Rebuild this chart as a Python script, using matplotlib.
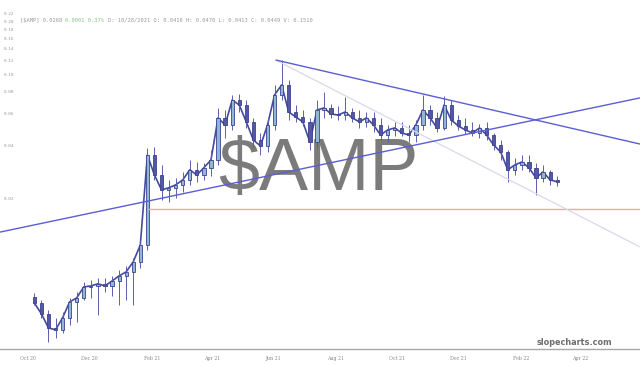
import numpy as np
import pandas as pd
import matplotlib
matplotlib.use("Agg")
import matplotlib.pyplot as plt
import matplotlib.dates as mdates
import matplotlib.transforms as mtransforms

# weekly OHLC (week starting Mondays from 2020-10-05)
week_start = pd.date_range("2020-10-05", periods=75, freq="7D")
opens = [0.00560, 0.00518, 0.00450, 0.00375, 0.00365, 0.00427, 0.00525, 0.00553, 0.00638, 0.00646,
         0.00664, 0.00646, 0.00689, 0.00736, 0.00776, 0.00884, 0.0110, 0.0354, 0.0273, 0.0225,
         0.0231, 0.0240, 0.0256, 0.0292, 0.0273, 0.0300, 0.0332, 0.0573, 0.0523, 0.0723,
         0.0678, 0.0544, 0.0430, 0.0398, 0.0523, 0.0772, 0.0879, 0.0619, 0.0580, 0.0544,
         0.0419, 0.0635, 0.0652, 0.0603, 0.0595, 0.0619, 0.0573, 0.0544, 0.0573, 0.0523,
         0.0459, 0.0490, 0.0503, 0.0471, 0.0459, 0.0523, 0.0635, 0.0573, 0.0503, 0.0678,
         0.0558, 0.0516, 0.0490, 0.0471, 0.0503, 0.0459, 0.0403, 0.0368, 0.0292, 0.0311,
         0.0323, 0.0300, 0.0263, 0.0284, 0.0256]
highs = [0.00590, 0.00539, 0.00473, 0.00427, 0.00461, 0.00553, 0.00597, 0.00680, 0.00698, 0.00717,
         0.00717, 0.00736, 0.00796, 0.00838, 0.00930, 0.0117, 0.0388, 0.0393, 0.0311, 0.0256,
         0.0263, 0.0284, 0.0332, 0.0323, 0.0319, 0.0378, 0.0652, 0.0635, 0.0772, 0.0782,
         0.0723, 0.0573, 0.0471, 0.0573, 0.0879, 0.1216, 0.0938, 0.0678, 0.0635, 0.0573,
         0.0723, 0.0803, 0.0687, 0.0669, 0.0752, 0.0652, 0.0635, 0.0619, 0.0619, 0.0573,
         0.0523, 0.0544, 0.0544, 0.0523, 0.0558, 0.0772, 0.0678, 0.0619, 0.0762, 0.0723,
         0.0595, 0.0573, 0.0544, 0.0530, 0.0544, 0.0471, 0.0430, 0.0378, 0.0341, 0.0354,
         0.0354, 0.0319, 0.0311, 0.0292, 0.0270]
lows = [0.00505, 0.00427, 0.00312, 0.00328, 0.00351, 0.00390, 0.00405, 0.00539, 0.00553, 0.00444,
        0.00597, 0.00567, 0.00505, 0.00539, 0.00505, 0.00817, 0.0103, 0.0256, 0.0197, 0.0192,
        0.0203, 0.0219, 0.0240, 0.0250, 0.0256, 0.0270, 0.0311, 0.0441, 0.0490, 0.0619,
        0.0503, 0.0388, 0.0354, 0.0368, 0.0490, 0.0723, 0.0558, 0.0544, 0.0516, 0.0378,
        0.0388, 0.0573, 0.0573, 0.0558, 0.0558, 0.0544, 0.0503, 0.0510, 0.0477, 0.0430,
        0.0419, 0.0453, 0.0453, 0.0419, 0.0419, 0.0490, 0.0523, 0.0477, 0.0490, 0.0523,
        0.0490, 0.0465, 0.0453, 0.0441, 0.0430, 0.0378, 0.0332, 0.0250, 0.0273, 0.0292,
        0.0284, 0.0211, 0.0250, 0.0240, 0.0237]
closes = [0.00518, 0.00450, 0.00375, 0.00365, 0.00427, 0.00525, 0.00553, 0.00638, 0.00646, 0.00664,
          0.00646, 0.00689, 0.00736, 0.00776, 0.00884, 0.0110, 0.0354, 0.0273, 0.0225, 0.0231,
          0.0240, 0.0256, 0.0292, 0.0273, 0.0300, 0.0332, 0.0573, 0.0523, 0.0723, 0.0678,
          0.0544, 0.0430, 0.0398, 0.0523, 0.0772, 0.0879, 0.0619, 0.0580, 0.0544, 0.0419,
          0.0635, 0.0652, 0.0603, 0.0595, 0.0619, 0.0573, 0.0544, 0.0573, 0.0523, 0.0459,
          0.0490, 0.0503, 0.0471, 0.0459, 0.0523, 0.0635, 0.0573, 0.0503, 0.0678, 0.0558,
          0.0516, 0.0490, 0.0471, 0.0503, 0.0459, 0.0403, 0.0368, 0.0292, 0.0311, 0.0323,
          0.0300, 0.0263, 0.0284, 0.0256, 0.0250]

# drawn trend lines (start date, start price, end date, end price)
rising_line = ("2020-09-03", 0.0130, "2022-05-30", 0.0743)
falling_line = ("2021-06-03", 0.1216, "2022-05-30", 0.0408)
faint_line = ("2021-06-03", 0.1216, "2022-05-30", 0.01072)
support_line = ("2021-01-28", 0.01756, "2022-05-30", 0.01756)

ytick_vals = [0.02, 0.04, 0.06, 0.08, 0.10, 0.12, 0.14, 0.16, 0.18, 0.20, 0.22]
xtick_dates = ["2020-10-01", "2020-12-01", "2021-02-01", "2021-04-01", "2021-06-01",
               "2021-08-01", "2021-10-01", "2021-12-01", "2022-02-01", "2022-04-01"]
xtick_labels = ["Oct 20", "Dec 20", "Feb 21", "Apr 21", "Jun 21",
                "Aug 21", "Oct 21", "Dec 21", "Feb 22", "Apr 22"]

fig = plt.figure(figsize=(6.4, 3.65), dpi=100)
ax = fig.add_axes([0, 0.044, 1, 0.956])
ax.set_yscale("log")
ax.set_xlim(mdates.date2num(pd.Timestamp("2020-09-03")), mdates.date2num(pd.Timestamp("2022-05-30")))
ax.set_ylim(0.00285, 0.265)

# candles
xs = mdates.date2num(week_start + pd.Timedelta(days=2))
o = np.array(opens); h = np.array(highs); l = np.array(lows); c = np.array(closes)
up = c >= o
ax.plot(xs, c, color="#4549a0", lw=1.2, zorder=3)
ax.vlines(xs, l, h, color="#5a5eae", lw=0.7, zorder=3)
bottoms = np.minimum(o, c)
tops = np.maximum(o, c)
ax.bar(xs[up], tops[up] - bottoms[up], bottom=bottoms[up], width=3.2,
       color="#8fb6d2", edgecolor="#3d418f", lw=0.6, zorder=4)
ax.bar(xs[~up], tops[~up] - bottoms[~up], bottom=bottoms[~up], width=3.2,
       color="#5357a6", edgecolor="#3d418f", lw=0.6, zorder=4)

# trend lines
def draw_line(spec, color, lw):
    d0, p0, d1, p1 = spec
    ax.plot([mdates.date2num(pd.Timestamp(d0)), mdates.date2num(pd.Timestamp(d1))], [p0, p1],
            color=color, lw=lw, zorder=5, solid_capstyle="butt")

draw_line(support_line, "#f2a8a8", 1.0)
draw_line(faint_line, "#d8d8ec", 0.9)
draw_line(rising_line, "#5a5ed6", 1.0)
draw_line(falling_line, "#5a5ed6", 1.0)

# watermark
ax.text(0.497, 0.51, "$AMP", transform=ax.transAxes, ha="center", va="center",
        fontsize=53, family="Liberation Sans", color="#7b7b7b", zorder=2)
ax.text(0.898, 0.018, "slopecharts.com", transform=ax.transAxes, ha="center", va="center",
        fontsize=5.9, color="#6e6e6e", fontweight="semibold", zorder=6)

# y labels inside the plot
ax.set_yticks([])
ax.yaxis.set_minor_locator(matplotlib.ticker.NullLocator())
trans = mtransforms.blended_transform_factory(ax.transAxes, ax.transData)
for v in ytick_vals:
    ax.text(0.006, v, f"{v:.2f}", transform=trans, fontsize=3.2, color="#9a9a9a",
            ha="left", va="center", family="DejaVu Sans Mono")

# x labels
ax.set_xticks([mdates.date2num(pd.Timestamp(d)) for d in xtick_dates])
ax.set_xticklabels(xtick_labels, fontsize=3.4, color="#8a8a8a", family="DejaVu Serif")
ax.tick_params(axis="x", length=0, pad=5)

for s in ["top", "left", "right"]:
    ax.spines[s].set_visible(False)
ax.spines["bottom"].set_color("#a8a8a8")
ax.spines["bottom"].set_linewidth(1.0)

# header line
hdr_y = 0.942
parts = [("[$AMP] 0.0268 ", "#9a9a9a"), ("0.0001 0.37% ", "#8cc08c"),
         ("D: 10/28/2021 O: 0.0416 H: 0.0470 L: 0.0413 C: 0.0449 V: 0.1510", "#9a9a9a")]
xpos = 0.031
for txt, col in parts:
    ax.text(xpos, hdr_y, txt, transform=ax.transAxes, fontsize=3.9, color=col,
            family="DejaVu Sans Mono", ha="left", va="center")
    xpos += len(txt) * 3.9 * 0.602 / 72 * 100 / 640

fig.savefig("out.png", dpi=100)
